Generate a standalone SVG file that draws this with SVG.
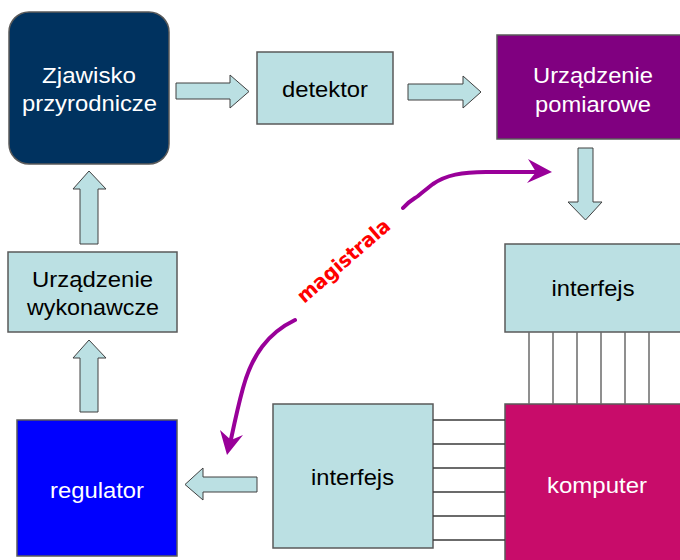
<svg xmlns="http://www.w3.org/2000/svg" width="680" height="560" viewBox="0 0 680 560">
<defs>
<style>
.box{stroke:#5a5a5a;stroke-width:1.5}
.lb{fill:#BBE0E3}
.t{font-family:"Liberation Sans",Arial,sans-serif;font-size:21.5px;text-anchor:middle}
.w{fill:#ffffff}
.k{fill:#000000}
.blk{fill:#BBE0E3;stroke:#404040;stroke-width:1}
.busv{stroke:#6a6a6a;stroke-width:1.5}
.bush{stroke:#3a3a3a;stroke-width:1.5}
.mag{fill:none;stroke:#990099;stroke-width:4;stroke-linecap:round}
.magh{fill:#990099}
</style>
</defs>
<rect width="680" height="560" fill="#ffffff"/>

<g id="zjawisko">
<rect class="box" x="9" y="12" width="160" height="152" rx="20" ry="20" fill="#00325F"/>
<text class="t w" x="89" y="83" textLength="94" lengthAdjust="spacingAndGlyphs">Zjawisko</text>
<text class="t w" x="89.5" y="111" textLength="135" lengthAdjust="spacingAndGlyphs">przyrodnicze</text>
</g>

<g id="detektor">
<rect class="box lb" x="257" y="52" width="136" height="72"/>
<text class="t k" x="325" y="97" textLength="86" lengthAdjust="spacingAndGlyphs">detektor</text>
</g>

<g id="pomiarowe">
<rect class="box" x="497" y="35" width="186" height="104" fill="#800080"/>
<text class="t w" x="593" y="83" textLength="120" lengthAdjust="spacingAndGlyphs">Urządzenie</text>
<text class="t w" x="593" y="112" textLength="116" lengthAdjust="spacingAndGlyphs">pomiarowe</text>
</g>

<g id="interfejs1">
<rect class="box lb" x="505" y="244" width="178" height="88"/>
<text class="t k" x="593" y="296" textLength="83" lengthAdjust="spacingAndGlyphs">interfejs</text>
</g>

<g id="komputer">
<rect class="box" x="505" y="404" width="178" height="160" fill="#C80C6A"/>
<text class="t w" x="597" y="493" textLength="100" lengthAdjust="spacingAndGlyphs">komputer</text>
</g>

<g id="interfejs2">
<rect class="box lb" x="273" y="404" width="160" height="144"/>
<text class="t k" x="352.5" y="485" textLength="83" lengthAdjust="spacingAndGlyphs">interfejs</text>
</g>

<g id="regulator">
<rect class="box" x="17" y="420" width="160" height="136" fill="#0000FF"/>
<text class="t w" x="97" y="498" textLength="94" lengthAdjust="spacingAndGlyphs">regulator</text>
</g>

<g id="wykonawcze">
<rect class="box lb" x="8" y="252" width="169" height="80"/>
<text class="t k" x="92.5" y="287" textLength="121" lengthAdjust="spacingAndGlyphs">Urządzenie</text>
<text class="t k" x="93" y="315" textLength="132" lengthAdjust="spacingAndGlyphs">wykonawcze</text>
</g>

<g id="connectors">
<polygon class="blk" points="176,83 230,83 230,75 249,91.5 230,108 230,99 176,99"/>
<polygon class="blk" points="408,84 463,84 463,76 481,92 463,108 463,100 408,100"/>
<polygon class="blk" points="578,148 593,148 593,202 602,202 585.5,220 568,202 578,202"/>
<polygon class="blk" points="257,477 203,477 203,468 185,484.5 203,500 203,492 257,492"/>
<polygon class="blk" points="80,412 80,358 73,358 89,340 106,358 98,358 98,412"/>
<polygon class="blk" points="80,244 80,189 73,189 89,171 106,189 98,189 98,244"/>

<g id="bus-vertical">
<line class="busv" x1="529" y1="332" x2="529" y2="404"/>
<line class="busv" x1="553" y1="332" x2="553" y2="404"/>
<line class="busv" x1="577" y1="332" x2="577" y2="404"/>
<line class="busv" x1="601" y1="332" x2="601" y2="404"/>
<line class="busv" x1="625" y1="332" x2="625" y2="404"/>
<line class="busv" x1="649" y1="332" x2="649" y2="404"/>
</g>
<g id="bus-horizontal">
<line class="bush" x1="433" y1="420" x2="505" y2="420"/>
<line class="bush" x1="433" y1="444" x2="505" y2="444"/>
<line class="bush" x1="433" y1="468" x2="505" y2="468"/>
<line class="bush" x1="433" y1="492" x2="505" y2="492"/>
<line class="bush" x1="433" y1="516" x2="505" y2="516"/>
<line class="bush" x1="433" y1="540" x2="505" y2="540"/>
</g>

<g id="magistrala">
<path class="mag" d="M403,208 C410,200 414,199 418,196 C424,191 428,188 433,184 C446,175 462,172 486,172 L540,172"/>
<path class="magh" d="M552,172 L528,159 L536,172 L527,183 Z"/>
<path class="mag" d="M295,320 C268,333 252,355 243,388 C237,410 233,430 230,444"/>
<path class="magh" d="M227,455 L220,430 L231,440 L243,435 Z"/>
<text x="348" y="266" transform="rotate(-41 348 266)" font-family="'Comic Sans MS','DejaVu Sans',sans-serif" font-weight="bold" font-size="20" fill="#FF0000" text-anchor="middle" textLength="116" lengthAdjust="spacingAndGlyphs">magistrala</text>
</g>
</g>
</svg>
